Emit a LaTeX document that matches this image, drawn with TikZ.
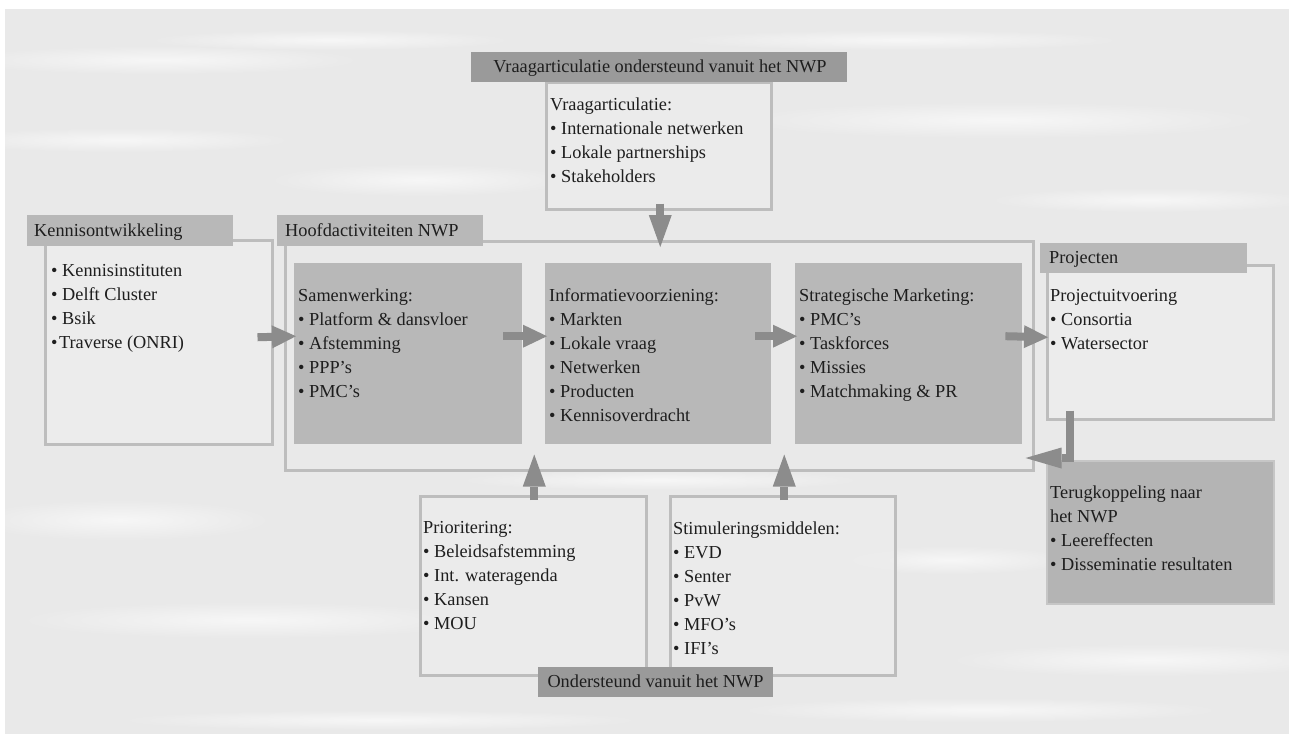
\documentclass[tikz,border=0pt]{standalone}
\usepackage{fontspec}
\setmainfont{Liberation Serif}
\usetikzlibrary{arrows.meta}
\definecolor{bgc}{HTML}{E9E9E9}
\definecolor{darkh}{HTML}{9A9A9A}
\definecolor{midh}{HTML}{B8B8B8}
\definecolor{lightf}{HTML}{ECECEC}
\definecolor{bord}{HTML}{BDBDBD}
\definecolor{arrc}{HTML}{8C8C8C}
\definecolor{txtc}{HTML}{1E1E1E}
\definecolor{terugf}{HTML}{B4B4B4}
\definecolor{terugb}{HTML}{C6C6C6}
\newcommand\mkbox[6]{\node[#6,anchor=north west,inner sep=0pt,minimum width=\fpeval{#4-#2}pt,minimum height=\fpeval{#5-#3}pt] (#1) at (#2,#3) {};}
\begin{document}
\begin{tikzpicture}[x=1pt,y=-1pt,
  lightbox/.style={draw=bord,line width=2.5pt,fill=lightf},
  openbox/.style={draw=bord,line width=2.5pt,fill=lightf,fill opacity=0.7},
  framebox/.style={draw=bord,line width=2.5pt},
  darkhdr/.style={fill=darkh},
  midhdr/.style={fill=midh},
  innerbox/.style={fill=midh},
  terugbox/.style={fill=terugf,draw=terugb,line width=1.5pt},
  txt/.style={font=\fontsize{18.3}{24}\selectfont,text=txtc,inner sep=0pt,align=left},
  body/.style={txt,anchor=north west,execute at begin node=\strut},
  flowh/.style={draw=arrc,line width=8pt,-{Triangle[length=24pt,width=23pt,line width=0pt]}},
  flowv/.style={draw=arrc,line width=8pt,-{Triangle[length=32pt,width=23pt,line width=0pt]}},
  flowe/.style={draw=arrc,line width=8pt,line join=miter,-{Triangle[length=36pt,width=21pt,line width=0pt]}},
  streak/.style={inner color=white!60!bgc,outer color=bgc}
]
\useasboundingbox (0,0) rectangle (1289,734);
\fill[white] (0,0) rectangle (1289,734);
\fill[bgc] (5,9) rectangle (1289,734);
% water texture
\begin{scope}
\clip (5,9) rectangle (1289,734);
\shade[streak] (160,60) ellipse (200 and 14);
\shade[streak] (120,140) ellipse (170 and 12);
\shade[streak] (420,180) ellipse (150 and 16);
\shade[streak] (1000,120) ellipse (260 and 18);
\shade[streak] (1150,200) ellipse (160 and 12);
\shade[streak] (330,40) ellipse (180 and 10);
\shade[streak] (900,40) ellipse (220 and 10);
\shade[streak] (120,520) ellipse (150 and 20);
\shade[streak] (250,620) ellipse (230 and 18);
\shade[streak] (1150,660) ellipse (200 and 16);
\shade[streak] (950,560) ellipse (120 and 14);
\shade[streak] (380,720) ellipse (260 and 10);
\shade[streak] (980,710) ellipse (240 and 12);
\shade[streak] (660,480) ellipse (200 and 10);
\end{scope}
% boxes
\mkbox{vbox}{545}{81}{770}{208}{openbox}
\mkbox{vhdr}{471}{51.5}{847}{81.5}{darkhdr}
\mkbox{kbox}{44}{239}{271}{443}{lightbox}
\mkbox{khdr}{27}{215}{233}{246}{midhdr}
\mkbox{hframe}{284}{240}{1032}{469}{framebox}
\mkbox{hhdr}{277}{215}{483}{246}{midhdr}
\mkbox{samw}{294}{263}{522}{444}{innerbox}
\mkbox{info}{545}{263}{771}{444}{innerbox}
\mkbox{strat}{795}{263}{1022}{444}{innerbox}
\mkbox{pbox}{1046}{264}{1272}{418}{lightbox}
\mkbox{phdr}{1040}{243}{1247}{273}{midhdr}
\mkbox{tbox}{1046}{460}{1273}{603}{terugbox}
\mkbox{prbox}{419}{495}{645}{674}{openbox}
\mkbox{stbox}{669}{495}{894}{674}{openbox}
\mkbox{ohdr}{538}{667}{773}{697}{darkhdr}
% header texts
\node[txt,anchor=base] (vhdrt) at (660,72) {Vraagarticulatie ondersteund vanuit het NWP};
\node[txt,anchor=base west] (khdrt) at (34,236) {Kennisontwikkeling};
\node[txt,anchor=base west] (hhdrt) at (285,236) {Hoofdactiviteiten NWP};
\node[txt,anchor=base west] (phdrt) at (1049,263) {Projecten};
\node[txt,anchor=base] (ohdrt) at (655.5,687) {Ondersteund vanuit het NWP};
% body texts (top = first baseline - 16.8)
\node[body] (vtxt) at (550,97.2) {Vraagarticulatie:\\• Internationale netwerken\\• Lokale partnerships\\• Stakeholders};
\node[body] (ktxt) at (51,264.2) {• Kennisinstituten\\• Delft Cluster\\• Bsik\\•\hspace{1.5pt}Traverse (ONRI)};
\node[body] (stxt) at (298,288.2) {Samenwerking:\\• Platform \& dansvloer\\• Afstemming\\• PPP’s\\• PMC’s};
\node[body] (itxt) at (549,288.2) {Informatievoorziening:\\• Markten\\• Lokale vraag\\• Netwerken\\• Producten\\• Kennisoverdracht};
\node[body] (sttxt) at (799,288.2) {Strategische Marketing:\\• PMC’s\\• Taskforces\\• Missies\\• Matchmaking \& PR};
\node[body] (ptxt) at (1050,289.2) {Projectuitvoering\\• Consortia\\• Watersector};
\node[body] (ttxt) at (1050,485.2) {Terugkoppeling naar\\het NWP\\• Leereffecten\\• Disseminatie resultaten};
\node[body] (prtxt) at (423,521.2) {Prioritering:\\• Beleidsafstemming\\• Int. wateragenda\\• Kansen\\• MOU};
\node[body] (sttxt2) at (673,521.2) {Stimuleringsmiddelen:\\• EVD\\• Senter\\• PvW\\• MFO’s\\• IFI’s};
% arrows
\draw[flowh] ([shift={(-16pt,5pt)}]kbox.east) -- ([shift={(2pt,17.5pt)}]samw.west);
\draw[flowh] ([shift={(-19pt,17.5pt)}]samw.east) -- ([shift={(2pt,17.5pt)}]info.west);
\draw[flowh] ([shift={(-16pt,17.5pt)}]info.east) -- ([shift={(2pt,17.5pt)}]strat.west);
\draw[flowh] ([shift={(-17pt,17.5pt)}]strat.east) -- ([shift={(2pt,5pt)}]pbox.west);
\draw[flowv] ([shift={(1.5pt,7pt)}]vbox.south) -- ([shift={(1pt,-7pt)}]hframe.north);
\coordinate (u1) at (prbox.north |- hframe.south);
\coordinate (u2) at (stbox.north |- hframe.south);
\draw[flowv] ([shift={(1pt,-5pt)}]prbox.north) -- ([shift={(1pt,17pt)}]u1);
\draw[flowv] ([shift={(1.5pt,-5pt)}]stbox.north) -- ([shift={(1.5pt,17pt)}]u2);
\coordinate (e1) at (hframe.east |- tbox.north);
\draw[flowe] ([shift={(24pt,10pt)}]pbox.south west) |- ([shift={(-9pt,2pt)}]e1);
\end{tikzpicture}
\end{document}
